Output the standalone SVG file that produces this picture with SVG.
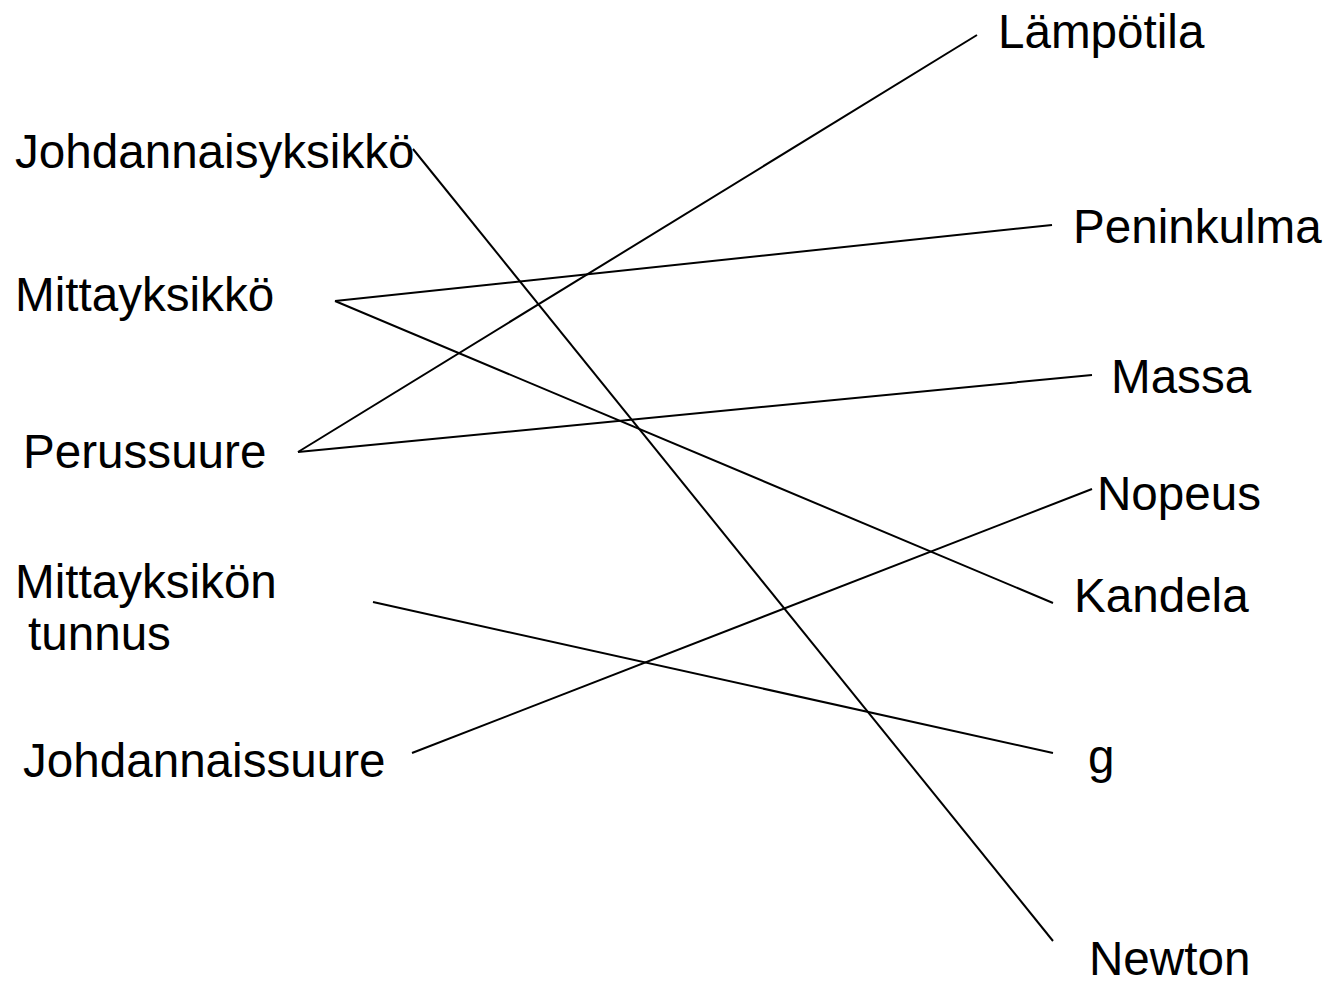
<svg xmlns="http://www.w3.org/2000/svg" width="1328" height="983" viewBox="0 0 1328 983">
<style>
text{font-family:"Liberation Sans",Arial,sans-serif;font-size:47.6px;fill:#000}
.c line{stroke:#000;stroke-width:2;fill:none}
</style>
<rect width="1328" height="983" fill="#fff"/>
<g id="n-johdannaisyksikko"><text x="15" y="168">Johdannaisyksikkö</text></g>
<g id="n-mittayksikko"><text x="15" y="311">Mittayksikkö</text></g>
<g id="n-perussuure"><text x="23" y="468">Perussuure</text></g>
<g id="n-mittayksikon-tunnus"><text x="15" y="598">Mittayksikön</text><text x="28" y="650">tunnus</text></g>
<g id="n-johdannaissuure"><text x="23" y="777">Johdannaissuure</text></g>
<g id="n-lampotila"><text x="998" y="48">Lämpötila</text></g>
<g id="n-peninkulma"><text x="1073" y="243">Peninkulma</text></g>
<g id="n-massa"><text x="1111" y="393">Massa</text></g>
<g id="n-nopeus"><text x="1097" y="510">Nopeus</text></g>
<g id="n-kandela"><text x="1074" y="612">Kandela</text></g>
<g id="n-g"><text x="1088" y="773">g</text></g>
<g id="n-newton"><text x="1089" y="975">Newton</text></g>
<g id="connectors" class="c">
<line x1="413" y1="149" x2="1053" y2="941"/>
<line x1="335" y1="301" x2="1052" y2="225"/>
<line x1="335" y1="301" x2="1053" y2="603"/>
<line x1="298" y1="452" x2="977" y2="35"/>
<line x1="298" y1="452" x2="1092" y2="375"/>
<line x1="373" y1="602" x2="1053" y2="753"/>
<line x1="412" y1="753" x2="1092" y2="489"/>
</g>
</svg>
